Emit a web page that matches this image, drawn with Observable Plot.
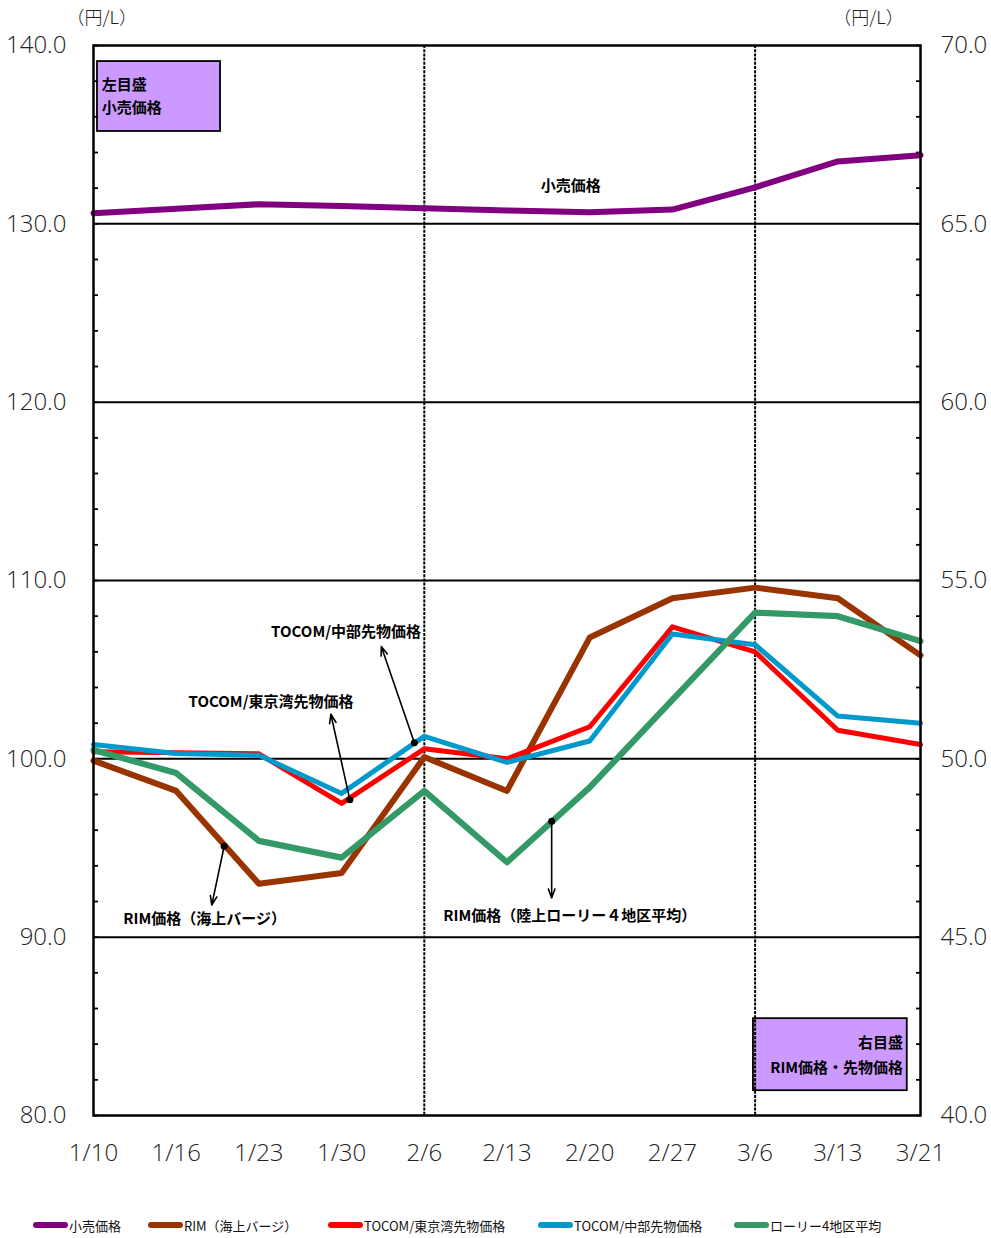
<!DOCTYPE html>
<html><head><meta charset="utf-8">
<script src="https://cdn.jsdelivr.net/npm/d3@7"></script>
<script src="https://cdn.jsdelivr.net/npm/@observablehq/plot@0.6"></script>
<style>
body{margin:0;background:#fff;width:991px;height:1238px;overflow:hidden;font-family:"Noto Sans CJK JP",sans-serif}
#chart svg{display:block}
#legend{position:relative;height:43px;width:991px}
.item{position:absolute;top:21px;height:18px;display:flex;align-items:center;font-size:13px;color:#111;white-space:nowrap}
.sw{display:inline-block;width:35px;height:6px;border-radius:3px;margin-right:1px}
</style></head><body>
<div id="chart"></div><div id="legend"></div>
<script>
// categories
const dates = ["1/10","1/16","1/23","1/30","2/6","2/13","2/20","2/27","3/6","3/13","3/21"];
// left scale (円/L)
const retail = [130.6,130.85,131.1,131.0,130.88,130.75,130.65,130.8,132.05,133.5,133.85];
// right scale (円/L)
const rimBarge   = [49.95,49.1,46.5,46.8,50.05,49.1,53.4,54.5,54.8,54.5,52.9];
const tocomTokyo = [50.2,50.17,50.14,48.75,50.28,50.0,50.9,53.7,53.0,50.8,50.4];
const tocomChubu = [50.4,50.15,50.1,49.03,50.63,49.9,50.5,53.5,53.2,51.2,51.0];
const lorry      = [50.25,49.6,47.7,47.23,49.1,47.1,49.2,51.65,54.1,54.0,53.3];

const seriesNames = ["小売価格","RIM（海上バージ）","TOCOM/東京湾先物価格","TOCOM/中部先物価格","ローリー4地区平均"];
const seriesColors = ["#800080","#993300","#FF0000","#0099CC","#339966"];
const seriesWidths = [6,6,5,5,6.2];
const seriesValues = [retail, rimBarge, tocomTokyo, tocomChubu, lorry];
const seriesAxis = ["left","right","right","right","right"];

const majorTicks = [80,90,100,110,120,130,140];
const minorTicks = d3.range(80,141,2);
const gridLines = [90,100,110,120,130];
const dividers = [4,8];

// annotations (data coordinates: x = date index, y = left scale)
const arrows = [
  {x1:3.88,y1:100.9,x2:3.48,y2:106.3},
  {x1:3.10,y1:97.7,x2:2.87,y2:102.5},
  {x1:1.58,y1:95.1,x2:1.43,y2:91.8},
  {x1:5.54,y1:96.5,x2:5.54,y2:92.2}
];
const labels = [
  {x:5.77,y:132.1,text:"小売価格",anchor:"middle"},
  {x:3.96,y:107.08,text:"TOCOM/中部先物価格",anchor:"end"},
  {x:1.15,y:103.15,text:"TOCOM/東京湾先物価格",anchor:"start"},
  {x:0.36,y:91.03,text:"RIM価格（海上バージ）",anchor:"start"},
  {x:4.23,y:91.2,text:"RIM価格（陸上ローリー４地区平均）",anchor:"start"},
  {x:0.1,y:137.76,text:"左目盛",anchor:"start"},
  {x:0.1,y:136.47,text:"小売価格",anchor:"start"},
  {x:9.79,y:84.03,text:"右目盛",anchor:"end"},
  {x:9.79,y:82.68,text:"RIM価格・先物価格",anchor:"end"}
];
const boxes = [
  {x1:0.048,x2:1.536,y1:139.1,y2:135.18},
  {x1:7.98,x2:9.84,y1:85.43,y2:81.39}
];
const unitLabels = [
  {x:0.1,y:141.55,text:"（円/L）"},
  {x:9.37,y:141.55,text:"（円/L）"}
];

const rows = [];
seriesNames.forEach((name, s) => {
  seriesValues[s].forEach((v, i) => {
    rows.push({series:name, i, v: seriesAxis[s] === "left" ? v : v * 2});
  });
});

const lineMarks = seriesNames.map((name, s) =>
  Plot.line(rows.filter(r => r.series === name), {
    x:"i", y:"v", stroke: seriesColors[s], strokeWidth: seriesWidths[s],
    strokeLinejoin:"round", strokeLinecap:"round"
  })
);

const labelMarks = ["start","middle","end"].map(a =>
  Plot.text(labels.filter(d => d.anchor === a), {
    x:"x", y:"y", text:"text", textAnchor:a, fontSize:15, fontWeight:"bold",
    fontFamily:"'Noto Sans CJK JP', sans-serif", fill:"black"
  })
);

const tickFont = {fontSize:24, fontWeight:300};

const chart = Plot.plot({
  width:991, height:1195,
  marginTop:45, marginBottom:80, marginLeft:93, marginRight:71,
  style:{fontFamily:"'Open Sans', sans-serif", background:"white", color:"#222", overflow:"visible"},
  x:{domain:[0,10]},
  y:{domain:[80,140]},
  marks:[
    Plot.rect(boxes, {x1:"x1",x2:"x2",y1:"y1",y2:"y2", fill:"#CC99FF", stroke:"black", strokeWidth:1.8}),
    Plot.ruleY(gridLines, {stroke:"black", strokeWidth:2}),
    Plot.ruleX(dividers, {stroke:"black", strokeWidth:2, strokeDasharray:"3,1.2"}),
    Plot.axisY({anchor:"left", ticks:minorTicks, tickSize:-5, tickFormat:() => "", label:null, strokeWidth:1.8, stroke:"black"}),
    Plot.axisY({anchor:"right", ticks:minorTicks, tickSize:-5, tickFormat:() => "", label:null, strokeWidth:1.8, stroke:"black"}),
    Plot.axisY({anchor:"left", ticks:majorTicks, tickSize:0, tickPadding:27, tickFormat:d => d.toFixed(1), label:null, ...tickFont}),
    Plot.axisY({anchor:"right", ticks:majorTicks, tickSize:0, tickPadding:20, tickFormat:d => (d/2).toFixed(1), label:null, ...tickFont}),
    Plot.axisX({ticks:d3.range(dates.length), tickSize:0, tickPadding:28, tickFormat:i => dates[i], label:null, ...tickFont}),
    ...lineMarks,
    Plot.frame({stroke:"black", strokeWidth:2.5}),
    Plot.arrow(arrows, {x1:"x1",y1:"y1",x2:"x2",y2:"y2", stroke:"black", strokeWidth:1.6, headLength:9, headAngle:40}),
    Plot.dot(arrows, {x:"x1", y:"y1", r:3.5, fill:"black"}),
    ...labelMarks,
    Plot.text(unitLabels, {x:"x", y:"y", text:"text", fontSize:18, fontWeight:300, fontFamily:"'Noto Sans CJK JP', sans-serif", fill:"#222"})
  ]
});
document.getElementById("chart").appendChild(chart);

const legendLefts = [33,148,328,538,734];
const legend = document.getElementById("legend");
seriesNames.forEach((name, s) => {
  const it = document.createElement("div");
  it.className = "item";
  it.style.left = legendLefts[s] + "px";
  const sw = document.createElement("span");
  sw.className = "sw";
  sw.style.background = seriesColors[s];
  it.appendChild(sw);
  it.appendChild(document.createTextNode(name));
  legend.appendChild(it);
});
</script></body></html>
